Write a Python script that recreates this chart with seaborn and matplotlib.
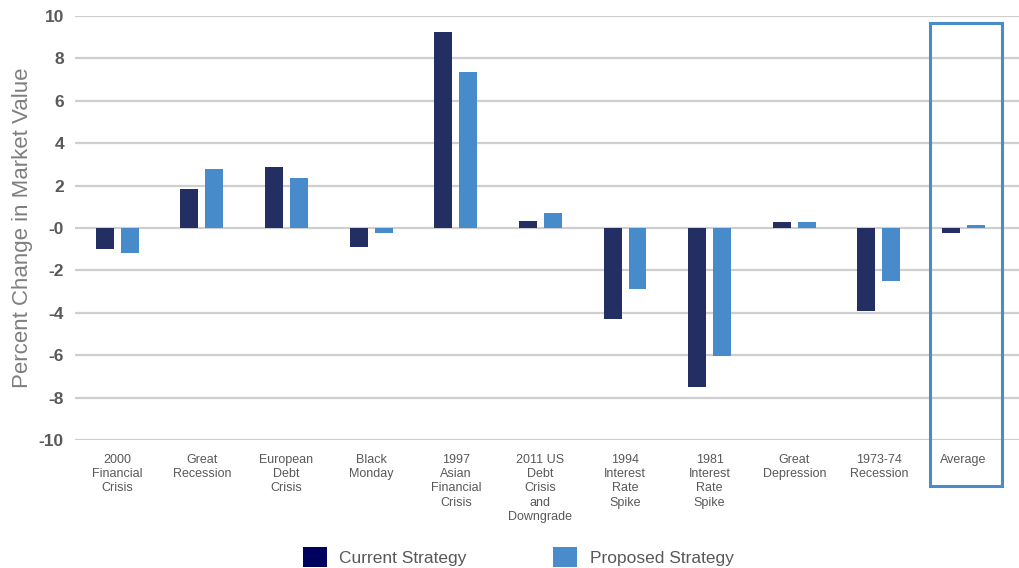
import matplotlib
matplotlib.use("Agg")
import matplotlib.pyplot as plt
import seaborn as sns
import pandas as pd
from matplotlib.patches import Rectangle, Patch

categories = ["2000\nFinancial\nCrisis", "Great\nRecession", "European\nDebt\nCrisis",
              "Black\nMonday", "1997\nAsian\nFinancial\nCrisis", "2011 US\nDebt\nCrisis\nand\nDowngrade",
              "1994\nInterest\nRate\nSpike", "1981\nInterest\nRate\nSpike", "Great\nDepression",
              "1973-74\nRecession", "Average"]
current = [-0.97, 1.85, 2.88, -0.88, 9.24, 0.34, -4.27, -7.52, 0.30, -3.90, -0.22]
proposed = [-1.16, 2.79, 2.37, -0.22, 7.35, 0.72, -2.86, -6.06, 0.30, -2.49, 0.12]
series = ["Current Strategy", "Proposed Strategy"]
yticks = [10, 8, 6, 4, 2, 0, -2, -4, -6, -8, -10]
ytick_labels = ["10", "8", "6", "4", "2", "-0", "-2", "-4", "-6", "-8", "-10"]

df = pd.DataFrame({
    "cat": categories * 2,
    "val": current + proposed,
    "series": [series[0]] * len(categories) + [series[1]] * len(categories),
})

sns.set_style("white")
plt.rcParams["font.family"] = ["Liberation Sans", "DejaVu Sans"]

fig = plt.figure(figsize=(10.19, 5.68), dpi=100)
ax = fig.add_axes([75 / 1019, 1 - 440 / 568, (1019 - 75) / 1019, (440 - 16) / 568])

colors = {"Current Strategy": "#232F63", "Proposed Strategy": "#488BCB"}
sns.barplot(data=df, x="cat", y="val", hue="series", palette=colors, ax=ax,
            width=0.59, gap=0.28, legend=False, saturation=1, linewidth=0)

ax.set_ylim(-10, 10)
ax.set_xlim(-0.5, (1019 - 117.5) / 84.6)
ax.set_yticks(yticks)
ax.set_yticklabels(ytick_labels, fontsize=12.5, color="#595959", fontweight="bold")
ax.yaxis.grid(True, color="#cfcfcf", linewidth=1.6)
ax.set_axisbelow(True)
for s in ax.spines.values():
    s.set_visible(False)
ax.tick_params(axis="y", length=0, pad=8)
ax.tick_params(axis="x", length=0, pad=10)
ax.set_xticks(range(len(categories)))
ax.set_xticklabels(categories, fontsize=9, color="#595959", linespacing=1.25, va="top")
ax.set_xlabel("")
ax.set_ylabel("Percent Change in Market Value", fontsize=16, color="#7f7f7f", labelpad=4)

# highlight box around Average
idx = len(categories) - 1
rect = Rectangle((idx - 0.40, -12.17), 0.86, 9.68 + 12.17, fill=False,
                 edgecolor="#4A8BCB", linewidth=2.2, clip_on=False)
ax.add_patch(rect)

handles = [Patch(facecolor="#00005E", edgecolor="none"), Patch(facecolor="#4A8BCB", edgecolor="none")]
fig.legend(handles, series, loc="center", bbox_to_anchor=(518 / 1019, 1 - 557 / 568), ncol=2,
           frameon=False, fontsize=12.5, handlelength=1.4, handleheight=1.4,
           columnspacing=5.0, handletextpad=0.7, labelcolor="#595959")

fig.savefig("out.png", dpi=100)
